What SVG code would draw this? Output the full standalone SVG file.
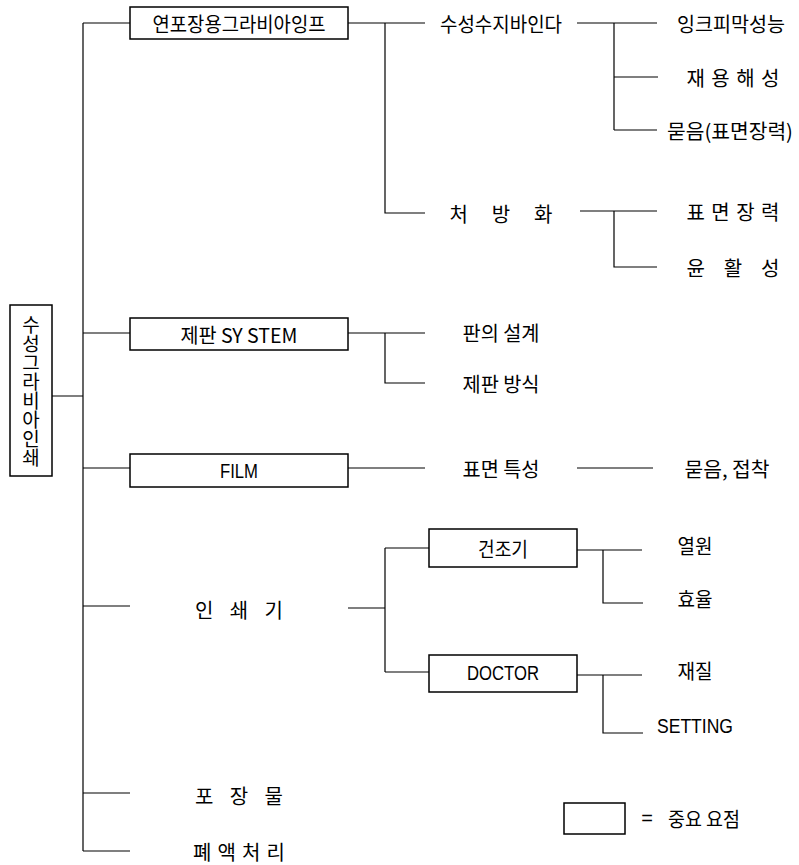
<svg xmlns="http://www.w3.org/2000/svg" width="799" height="865" viewBox="0 0 799 865">
<style>
.ln{stroke:#000;stroke-width:1.2;fill:none}
.bx{stroke:#000;stroke-width:1.5;fill:#fff}
text{font-family:"Noto Sans CJK KR","Liberation Sans",sans-serif;font-size:20px;fill:#000;text-anchor:middle;dominant-baseline:central}
.lat{font-family:"Liberation Sans","Noto Sans CJK KR",sans-serif;font-size:20px}
.vt{font-size:19px;writing-mode:vertical-rl;text-anchor:start}
</style>
<rect width="799" height="865" fill="#fff"/>
<g id="connectors" class="ln">
<path d="M52 396H83M83 23V851M83 23H130M83 333H130M83 468H130M83 606H130M83 793H130M83 851H130"/>
<path d="M348 23H425M385 23V213H425"/>
<path d="M348 333H425M385 333V383H425"/>
<path d="M348 468H425"/>
<path d="M348 608H385M385 548V672M385 548H429M385 672H429"/>
<path d="M577 23H657M614 23V130M614 77H658M614 130H657"/>
<path d="M580 211H657M614 211V267H657"/>
<path d="M577 468H653"/>
<path d="M577 550H642M603 550V603H643"/>
<path d="M577 675H642M603 675V733H643"/>
</g>
<g id="root"><rect class="bx" x="10" y="305" width="42" height="171"/>
<text class="vt" x="31" y="315">수성그라비아인쇄</text></g>
<g id="n1"><rect class="bx" x="130" y="7" width="218" height="32"/><text x="239" y="23" textLength="173" lengthAdjust="spacingAndGlyphs">연포장용그라비아잉프</text></g>
<g id="n1a"><text x="501" y="23" textLength="122" lengthAdjust="spacingAndGlyphs">수성수지바인다</text></g>
<g id="n1a1"><text x="731" y="23" textLength="108" lengthAdjust="spacingAndGlyphs">잉크피막성능</text></g>
<g id="n1a2"><text x="733" y="77" textLength="93" lengthAdjust="spacing">재 용 해 성</text></g>
<g id="n1a3"><text x="730" y="130" textLength="126" lengthAdjust="spacingAndGlyphs">묻음(표면장력)</text></g>
<g id="n1b"><text x="501" y="213" textLength="103" lengthAdjust="spacing">처 방 화</text></g>
<g id="n1b1"><text x="733" y="211" textLength="93" lengthAdjust="spacing">표 면 장 력</text></g>
<g id="n1b2"><text x="733" y="267" textLength="93" lengthAdjust="spacing">윤 활 성</text></g>
<g id="n2"><rect class="bx" x="130" y="318" width="218" height="32"/><text x="239" y="334" textLength="117" lengthAdjust="spacingAndGlyphs">제판 SY STEM</text></g>
<g id="n2a"><text x="501" y="332" textLength="77" lengthAdjust="spacingAndGlyphs">판의 설계</text></g>
<g id="n2b"><text x="501" y="383" textLength="77" lengthAdjust="spacingAndGlyphs">제판 방식</text></g>
<g id="n3"><rect class="bx" x="130" y="454" width="218" height="33"/><text class="lat" x="239" y="471" textLength="38" lengthAdjust="spacingAndGlyphs">FILM</text></g>
<g id="n3a"><text x="501" y="468" textLength="77" lengthAdjust="spacingAndGlyphs">표면 특성</text></g>
<g id="n3a1"><text x="727" y="468" textLength="85" lengthAdjust="spacingAndGlyphs">묻음, 접착</text></g>
<g id="n4"><text x="239" y="609" textLength="88" lengthAdjust="spacing">인 쇄 기</text></g>
<g id="n4a"><rect class="bx" x="429" y="529" width="148" height="38"/><text x="503" y="548" textLength="50" lengthAdjust="spacingAndGlyphs">건조기</text></g>
<g id="n4a1"><text x="695" y="545" textLength="35" lengthAdjust="spacingAndGlyphs">열원</text></g>
<g id="n4a2"><text x="695" y="598" textLength="35" lengthAdjust="spacingAndGlyphs">효율</text></g>
<g id="n4b"><rect class="bx" x="429" y="655" width="148" height="37"/><text class="lat" x="503" y="673" textLength="72" lengthAdjust="spacingAndGlyphs">DOCTOR</text></g>
<g id="n4b1"><text x="695" y="670" textLength="35" lengthAdjust="spacingAndGlyphs">재질</text></g>
<g id="n4b2"><text class="lat" x="695" y="726" textLength="76" lengthAdjust="spacingAndGlyphs">SETTING</text></g>
<g id="n5"><text x="239" y="795" textLength="88" lengthAdjust="spacing">포 장 물</text></g>
<g id="n6"><text x="239" y="851" textLength="92" lengthAdjust="spacing">폐 액 처 리</text></g>
<g id="legend"><rect class="bx" x="564" y="803" width="61" height="31"/><text class="lat" x="647" y="818">=</text><text x="704" y="818" textLength="72" lengthAdjust="spacingAndGlyphs">중요 요점</text></g>
</svg>
